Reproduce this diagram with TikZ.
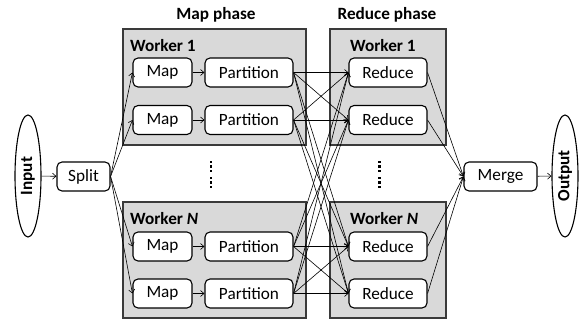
\documentclass[tikz,border=0pt]{standalone}
\usepackage{fontspec}
\setmainfont{Carlito}
\usetikzlibrary{arrows.meta,shapes.geometric}
\definecolor{wfill}{HTML}{D9D9D9}
\definecolor{wline}{HTML}{3A3A3A}
\begin{document}
\begin{tikzpicture}[x=1pt,y=-1pt,
  txt/.style={font=\fontsize{17.2}{19}\selectfont},
  btxt/.style={font=\fontsize{17.2}{19}\selectfont\bfseries},
  box/.style={txt,draw,rounded corners=5pt,line width=1.1pt,fill=white,inner sep=0pt,minimum height=29pt},
  wbox/.style={draw=wline,fill=wfill,line width=1.2pt,inner sep=0pt,minimum width=183pt,minimum height=116pt},
  rbox/.style={draw=wline,fill=wfill,line width=1.2pt,inner sep=0pt,minimum width=116pt,minimum height=116pt},
  oval/.style={btxt,draw,ellipse,line width=1.1pt,inner sep=0pt,minimum width=26pt,minimum height=122pt},
  arr/.style={line width=0.6pt,-{Straight Barb[length=3.5pt,width=6pt,line width=0.6pt]}},
  ln/.style={line width=0.6pt},
  dot/.style={fill=black,inner sep=0pt,minimum size=2.2pt,rectangle}
]
\useasboundingbox (0,0) rectangle (581,320);
% phase labels
\node[btxt] (mp) at (216,15) {Map phase};
\node[btxt] (rp) at (387,15) {Reduce phase};
% worker boxes
\node[wbox] (mw1) at (214.5,87) {};
\node[wbox] (mwn) at (214.5,260) {};
\node[rbox] (rw1) at (388,87) {};
\node[rbox] (rwn) at (388,260) {};
\node[btxt,anchor=west,inner sep=0pt] (l1) at (130,46) {Worker 1};
\node[btxt,anchor=west,inner sep=0pt] (l2) at (130,219) {Worker \textit{N}};
\node[btxt,anchor=west,inner sep=0pt] (l3) at (350,46) {Worker 1};
\node[btxt,anchor=west,inner sep=0pt] (l4) at (350,219) {Worker \textit{N}};
% input / output / split / merge
\node[oval] (in) at (28,176) {\rotatebox{90}{Input}};
\node[oval] (out) at (565,176) {\rotatebox{90}{Output}};
\node[box,minimum width=53pt] (split) at (83.5,176.5) {Split};
\node[box,minimum width=73pt] (merge) at (500.5,176.5) {Merge};
% rows
\foreach \i/\y in {1/72.5,2/120,3/246.5,4/293.5}{
  \node[box,minimum width=59pt] (m\i) at (162.5,\y) {Map};
  \node[box,minimum width=88pt] (p\i) at (249,\y) {Partition};
  \node[box,minimum width=78pt] (r\i) at (388,\y) {Reduce};
}
% dots
\foreach \x/\n in {211/a,379.5/b}{
  \foreach \y/\k in {162/1,166.5/2,171/3,178/4,182.5/5,187/6}{
    \node[dot] (d\n\k) at (\x,\y) {};
  }
}
% connectors
\draw[arr] (in) -- (split);
\draw[arr] (merge) -- (out);
\foreach \i in {1,2,3,4}{
  \draw[arr] (split.east) -- (m\i.west);
  \draw[arr] (m\i) -- (p\i);
  \draw[arr] (r\i.east) -- (merge.west);
  \foreach \j in {1,2,3,4}{
    \draw[arr] (p\i.east) -- (r\j.west);
  }
}
\end{tikzpicture}
\end{document}
